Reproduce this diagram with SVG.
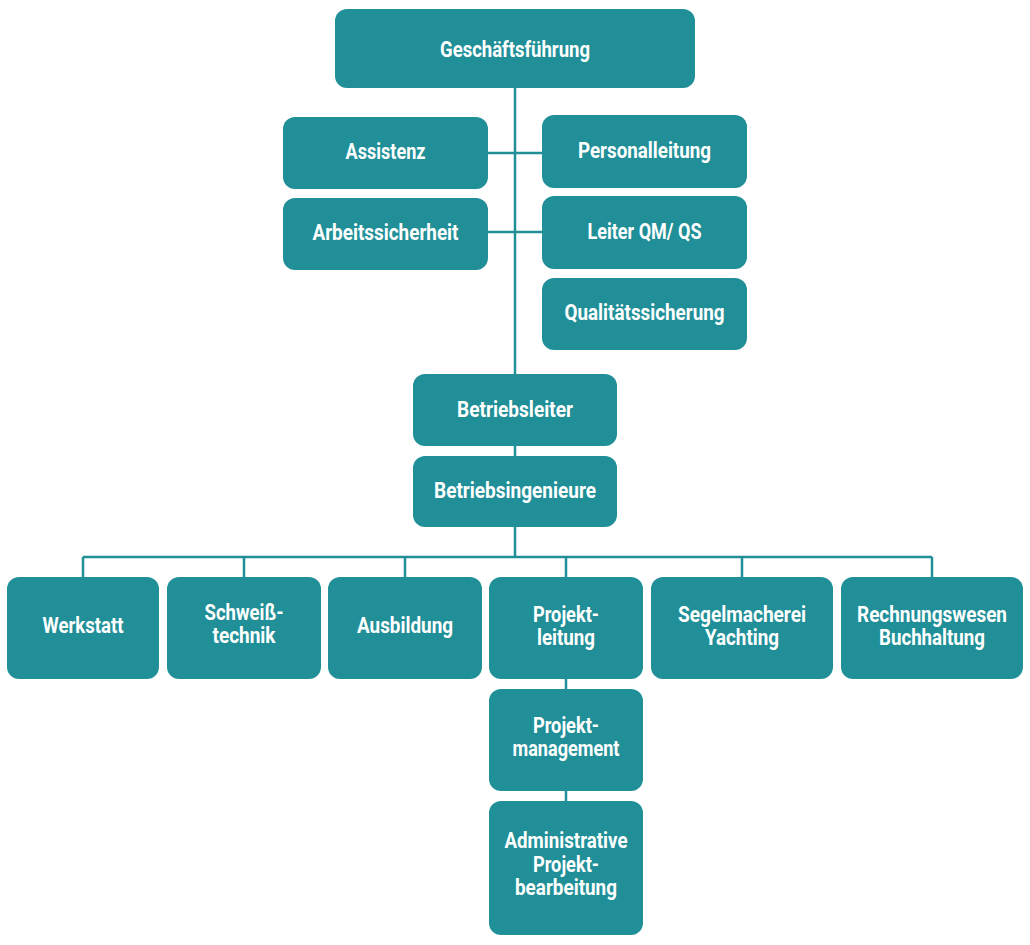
<svg xmlns="http://www.w3.org/2000/svg" width="1030" height="945" viewBox="0 0 1030 945">
<style>
.box{fill:#208f98;}
.t{fill:#ffffff;font-family:Roboto,"Liberation Sans",sans-serif;font-weight:bold;font-size:22px;text-anchor:middle;}
.c{stroke:#208f98;stroke-width:2.5;fill:none;}
</style>
<rect width="1030" height="945" fill="#ffffff"/>
<g id="connectors" class="c">
<path d="M515 88V374M488 153H542M488 232H542M515 446V456M515 527V557M83 557H932M83 557V577M244 557V577M405 557V577M566 557V577M742 557V577M932 557V577M566 679V689M566 791V801"/>
</g>
<g id="n-geschaeftsfuehrung"><rect class="box" x="335" y="9" width="360" height="79" rx="12"/><text class="t" x="515" y="57" textLength="150" lengthAdjust="spacingAndGlyphs">Geschäftsführung</text></g>
<g id="n-assistenz"><rect class="box" x="283" y="117" width="205" height="72" rx="12"/><text class="t" x="385.5" y="159" textLength="80" lengthAdjust="spacingAndGlyphs">Assistenz</text></g>
<g id="n-personalleitung"><rect class="box" x="542" y="115" width="205" height="73" rx="12"/><text class="t" x="644.5" y="158" textLength="133" lengthAdjust="spacingAndGlyphs">Personalleitung</text></g>
<g id="n-arbeitssicherheit"><rect class="box" x="283" y="198" width="205" height="72" rx="12"/><text class="t" x="385.5" y="240" textLength="146" lengthAdjust="spacingAndGlyphs">Arbeitssicherheit</text></g>
<g id="n-leiterqm"><rect class="box" x="542" y="196" width="205" height="73" rx="12"/><text class="t" x="644.5" y="239" textLength="114" lengthAdjust="spacingAndGlyphs">Leiter QM/ QS</text></g>
<g id="n-qualitaetssicherung"><rect class="box" x="542" y="278" width="205" height="72" rx="12"/><text class="t" x="644.5" y="320" textLength="160" lengthAdjust="spacingAndGlyphs">Qualitätssicherung</text></g>
<g id="n-betriebsleiter"><rect class="box" x="413" y="374" width="204" height="72" rx="12"/><text class="t" x="515" y="417" textLength="116" lengthAdjust="spacingAndGlyphs">Betriebsleiter</text></g>
<g id="n-betriebsingenieure"><rect class="box" x="413" y="456" width="204" height="71" rx="12"/><text class="t" x="515" y="498" textLength="162" lengthAdjust="spacingAndGlyphs">Betriebsingenieure</text></g>
<g id="n-werkstatt"><rect class="box" x="7" y="577" width="152" height="102" rx="12"/><text class="t" x="83" y="633" textLength="81" lengthAdjust="spacingAndGlyphs">Werkstatt</text></g>
<g id="n-schweisstechnik"><rect class="box" x="167" y="577" width="154" height="102" rx="12"/><text class="t" x="244" y="620" textLength="79" lengthAdjust="spacingAndGlyphs">Schweiß-</text><text class="t" x="244" y="643" textLength="63" lengthAdjust="spacingAndGlyphs">technik</text></g>
<g id="n-ausbildung"><rect class="box" x="328" y="577" width="154" height="102" rx="12"/><text class="t" x="405" y="633" textLength="96" lengthAdjust="spacingAndGlyphs">Ausbildung</text></g>
<g id="n-projektleitung"><rect class="box" x="489" y="577" width="154" height="102" rx="12"/><text class="t" x="566" y="622" textLength="66" lengthAdjust="spacingAndGlyphs">Projekt-</text><text class="t" x="566" y="645" textLength="58" lengthAdjust="spacingAndGlyphs">leitung</text></g>
<g id="n-segelmacherei"><rect class="box" x="651" y="577" width="182" height="102" rx="12"/><text class="t" x="742" y="622" textLength="128" lengthAdjust="spacingAndGlyphs">Segelmacherei</text><text class="t" x="742" y="645" textLength="74" lengthAdjust="spacingAndGlyphs">Yachting</text></g>
<g id="n-rechnungswesen"><rect class="box" x="841" y="577" width="182" height="102" rx="12"/><text class="t" x="932" y="622" textLength="150" lengthAdjust="spacingAndGlyphs">Rechnungswesen</text><text class="t" x="932" y="645" textLength="106" lengthAdjust="spacingAndGlyphs">Buchhaltung</text></g>
<g id="n-projektmanagement"><rect class="box" x="489" y="689" width="154" height="102" rx="12"/><text class="t" x="566" y="733" textLength="66" lengthAdjust="spacingAndGlyphs">Projekt-</text><text class="t" x="566" y="756" textLength="107" lengthAdjust="spacingAndGlyphs">management</text></g>
<g id="n-administrative"><rect class="box" x="489" y="801" width="154" height="134" rx="12"/><text class="t" x="566" y="848" textLength="123" lengthAdjust="spacingAndGlyphs">Administrative</text><text class="t" x="566" y="872" textLength="66" lengthAdjust="spacingAndGlyphs">Projekt-</text><text class="t" x="566" y="895" textLength="102" lengthAdjust="spacingAndGlyphs">bearbeitung</text></g>
</svg>
